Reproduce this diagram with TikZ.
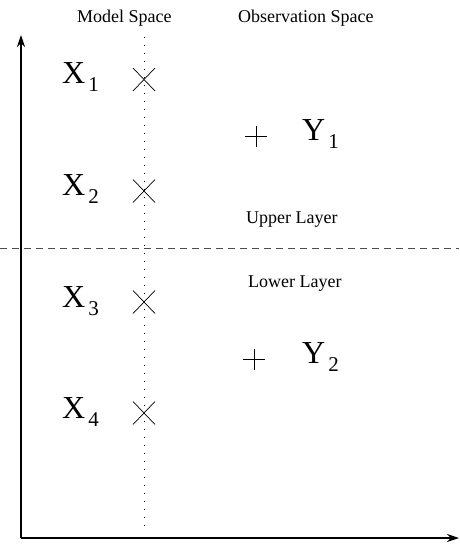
\documentclass[tikz,border=0pt]{standalone}
\usepackage{fontspec}
\setmainfont{Liberation Serif}
\usetikzlibrary{arrows.meta}
\tikzset{
  big/.style={font=\fontsize{32}{32}\selectfont, inner sep=0pt, anchor=base west},
  caption/.style={font=\fontsize{18}{18}\selectfont, inner sep=0pt, anchor=base west},
  axis/.style={line width=1.1pt, -{Stealth[length=12pt,width=8pt]}},
  mark x/.style={line width=0.7pt},
}
\newcommand{\sublab}[2]{#1\kern3pt\raisebox{-8pt}{\fontsize{21}{21}\selectfont #2}}
\begin{document}
\begin{tikzpicture}[x=1pt,y=-1pt]
  \useasboundingbox (0,0) rectangle (459,544);

  % axes
  \coordinate (O) at (21,538);
  \coordinate (top) at (21,35);
  \coordinate (right) at (459,538);
  \draw[axis] (O) -- (top);
  \draw[axis] (O) -- (right);

  % model space divider and layer boundary
  \coordinate (mtop) at (144,37);
  \coordinate (mbot) at (144,531);
  \draw[line width=0.8pt, dash pattern=on 1.2pt off 6.8pt] (mtop) -- (mbot);
  \coordinate (lleft) at (0,248);
  \coordinate (lright) at (459,248);
  \draw[line width=0.9pt, black!70, dash pattern=on 7pt off 5pt] (lleft) -- (lright);

  % headers
  \node[caption] (ms) at (77,22) {Model Space};
  \node[caption] (os) at (238,22) {Observation Space};
  \node[caption] (ul) at (246,223) {Upper Layer};
  \node[caption] (ll) at (248,287) {Lower Layer};

  % model states
  \node[big] (x1) at (62,83)  {\sublab{X}{1}};
  \node[big] (x2) at (62,195) {\sublab{X}{2}};
  \node[big] (x3) at (62,307) {\sublab{X}{3}};
  \node[big] (x4) at (62,418) {\sublab{X}{4}};
  \foreach \yy/\nm in {79.5/c1,191/c2,302/c3,413/c4}{
    \coordinate (\nm) at (144,\yy);
    \draw[mark x] ([shift={(-11,-11.5)}]\nm) -- ([shift={(11,11.5)}]\nm);
    \draw[mark x] ([shift={(-11,11.5)}]\nm) -- ([shift={(11,-11.5)}]\nm);
  }

  % observations
  \node[big] (y1) at (302,140) {\sublab{Y}{1}};
  \node[big] (y2) at (302,363) {\sublab{Y}{2}};
  \foreach \xx/\yy/\nm in {256/136/p1,254/359/p2}{
    \coordinate (\nm) at (\xx,\yy);
    \draw[mark x] ([xshift=-11]\nm) -- ([xshift=11]\nm);
    \draw[mark x] ([yshift=-10.5]\nm) -- ([yshift=10.5]\nm);
  }
\end{tikzpicture}
\end{document}
